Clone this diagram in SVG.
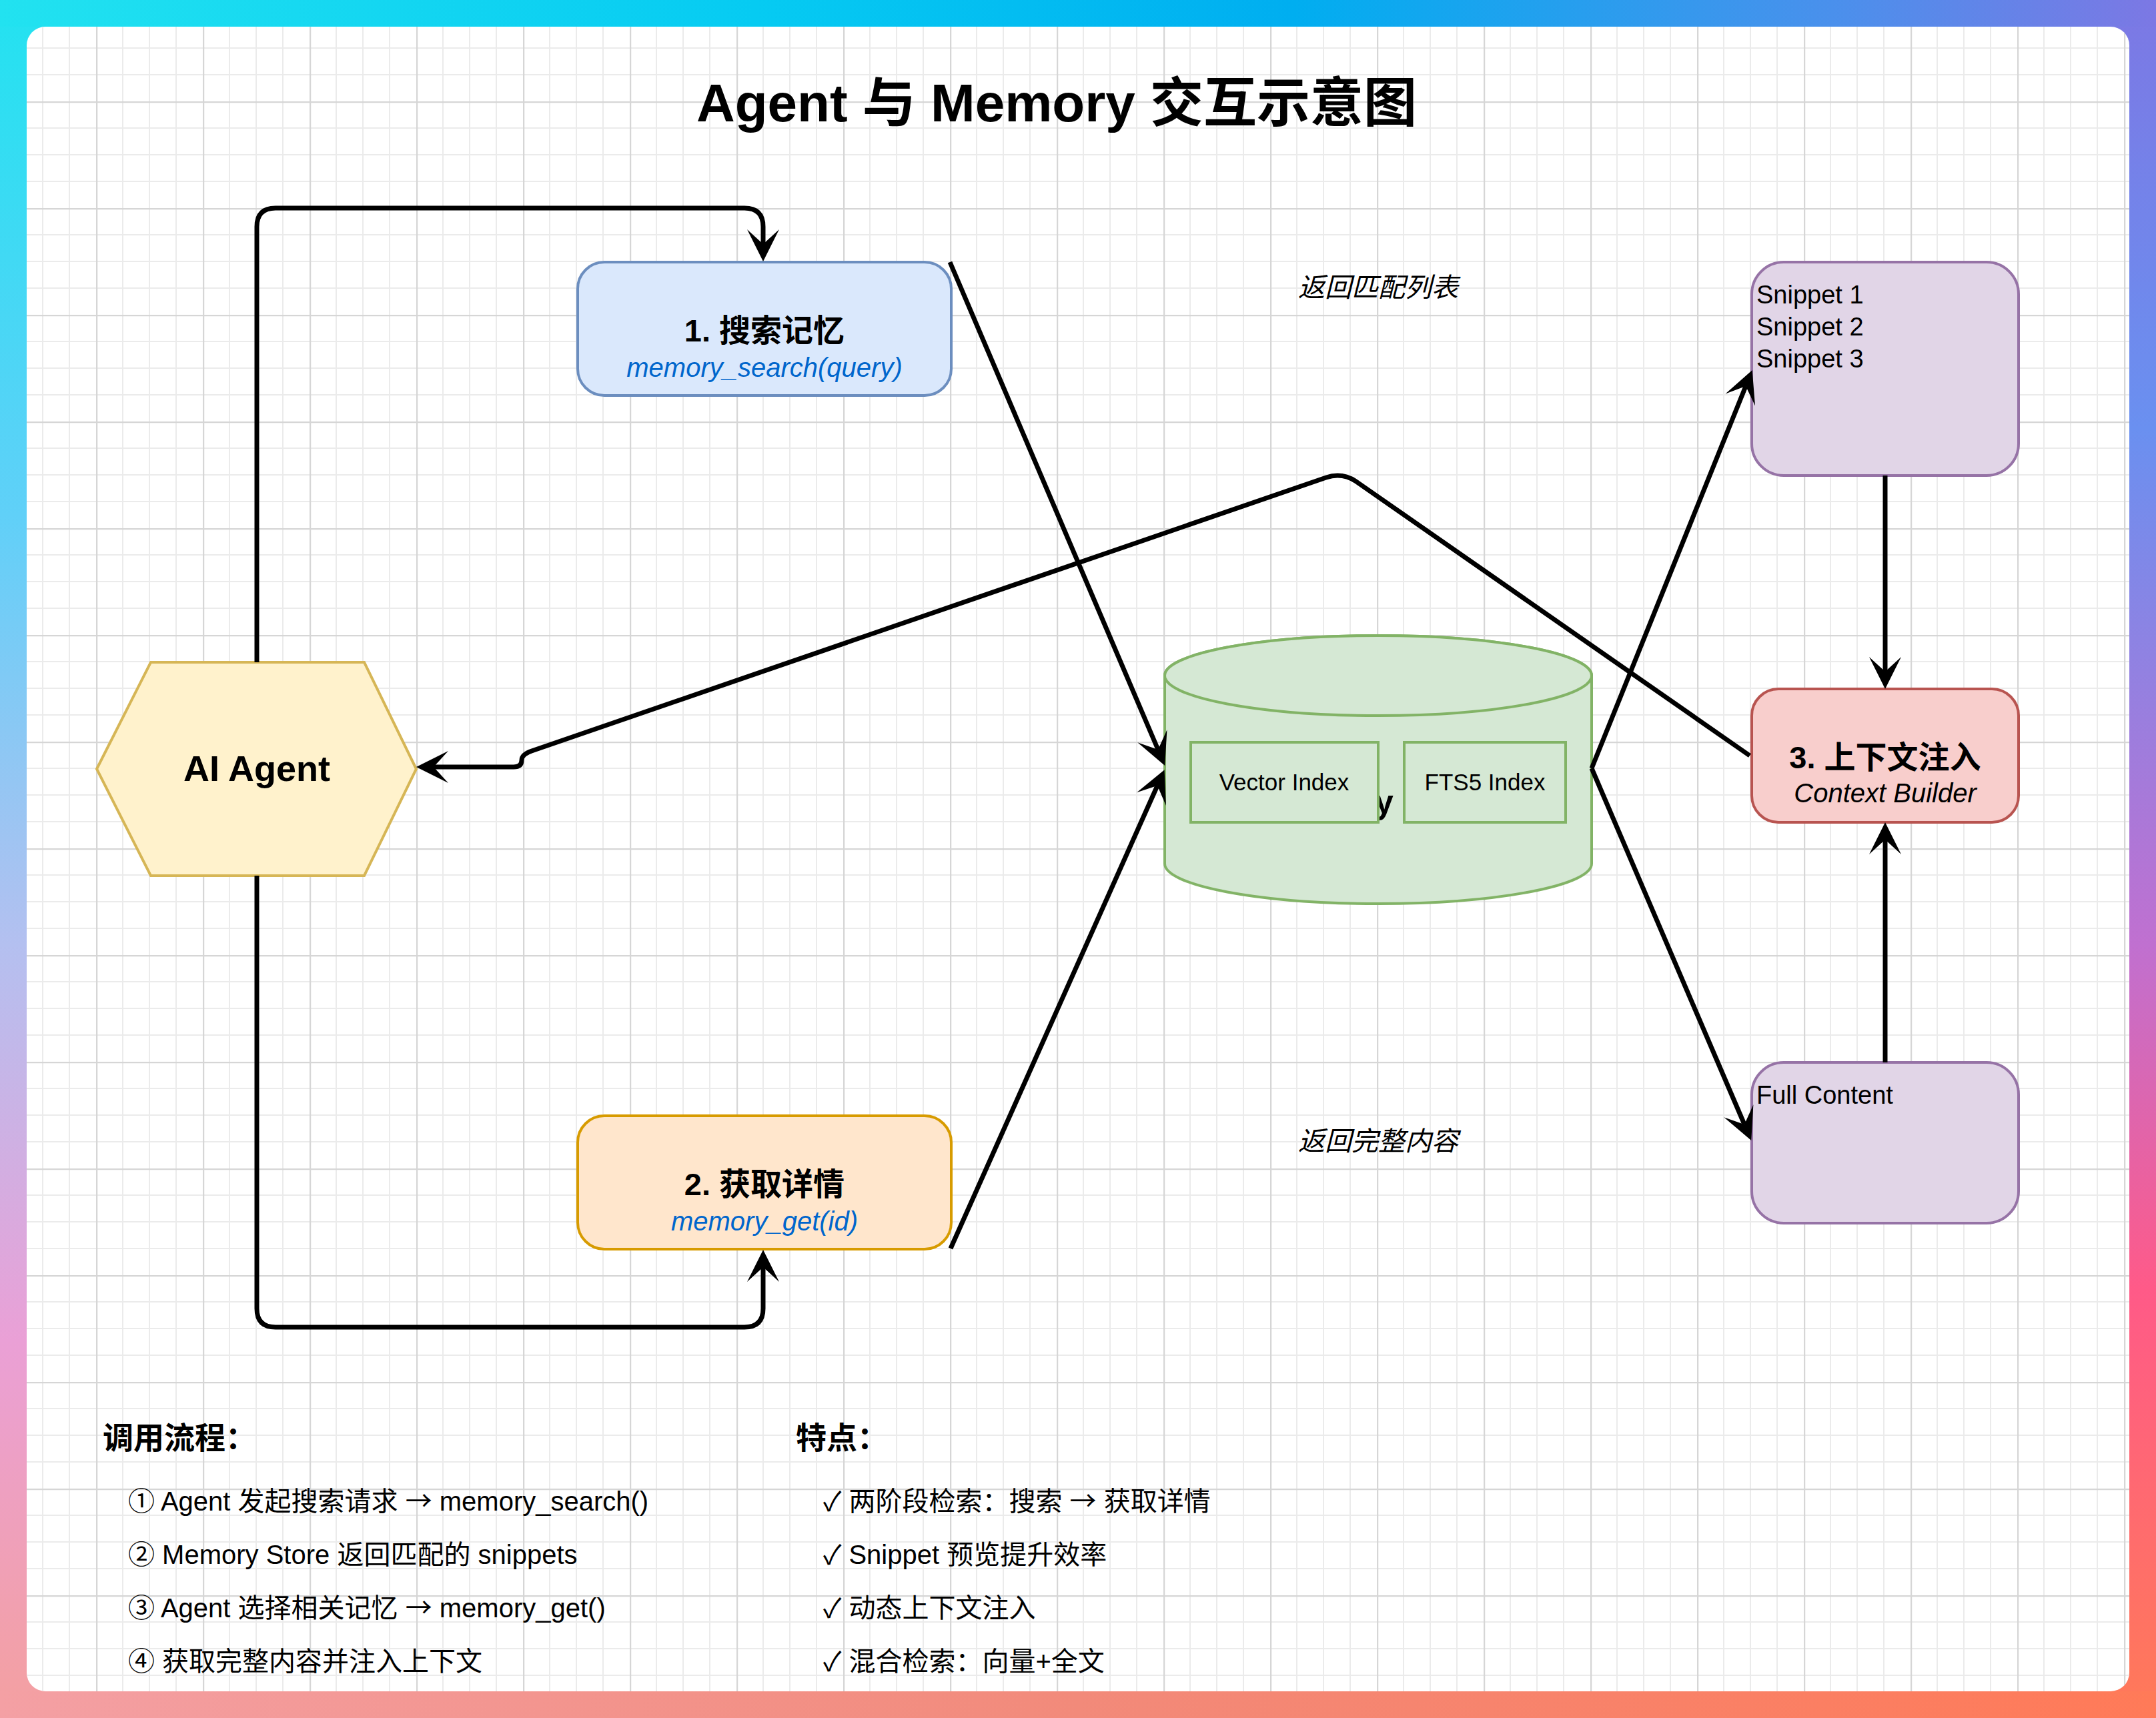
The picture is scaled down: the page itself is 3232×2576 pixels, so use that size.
<svg xmlns="http://www.w3.org/2000/svg" width="3232" height="2576" viewBox="0 0 3232 2576">
<defs>
<style>
.t{font-family:"Liberation Sans","Noto Sans CJK SC",sans-serif;fill:#000}
.b{font-weight:bold}
.i{font-style:italic}
.c{text-anchor:middle}
.blue{fill:#0066cc}
.ar{font-family:"Noto Sans CJK SC",sans-serif}
.edge{fill:none;stroke:#000;stroke-width:7;stroke-linejoin:round}
.green{fill:#d5e8d4;stroke:#82b366;stroke-width:4}
.purple{fill:#e1d5e7;stroke:#9673a6;stroke-width:4}
</style>
<linearGradient id="gTop" x1="0" y1="0" x2="1" y2="0">
<stop offset="0" stop-color="#22e2f0"/><stop offset="0.35" stop-color="#06cbf2"/><stop offset="0.6" stop-color="#00aef0"/><stop offset="0.85" stop-color="#4a90ec"/><stop offset="1" stop-color="#7c78e4"/>
</linearGradient>
<linearGradient id="gBot" x1="0" y1="0" x2="1" y2="0">
<stop offset="0" stop-color="#f4a0a4"/><stop offset="0.5" stop-color="#f28a7a"/><stop offset="1" stop-color="#ff7a58"/>
</linearGradient>
<linearGradient id="gLeft" x1="0" y1="0" x2="0" y2="1">
<stop offset="0" stop-color="#22e2f0"/><stop offset="0.3" stop-color="#60d0f8"/><stop offset="0.55" stop-color="#b4c0f0"/><stop offset="0.78" stop-color="#eaa0d6"/><stop offset="1" stop-color="#f4a0a0"/>
</linearGradient>
<linearGradient id="gRight" x1="0" y1="0" x2="0" y2="1">
<stop offset="0" stop-color="#7c78e4"/><stop offset="0.25" stop-color="#6a90f0"/><stop offset="0.55" stop-color="#c070d0"/><stop offset="0.75" stop-color="#ff5a88"/><stop offset="1" stop-color="#ff7a58"/>
</linearGradient>
<pattern id="grid" x="144" y="152" width="160" height="160" patternUnits="userSpaceOnUse">
<path d="M40 0V160M80 0V160M120 0V160M0 40H160M0 80H160M0 120H160" stroke="#ebebeb" stroke-width="2"/>
<path d="M1 0V160M0 1H160" stroke="#d6d6d6" stroke-width="2.5"/>
</pattern>
<marker id="arr" markerUnits="userSpaceOnUse" viewBox="-24 -25 52 50" refX="0" refY="0" markerWidth="52" markerHeight="50" orient="auto">
<path d="M26 0L-22 -24L0 0L-22 24Z" fill="#000"/>
</marker>
</defs>

<g id="background">
<rect x="0" y="0" width="1616" height="2576" fill="url(#gLeft)"/>
<rect x="1616" y="0" width="1616" height="2576" fill="url(#gRight)"/>
<rect x="0" y="0" width="3232" height="40" fill="url(#gTop)"/>
<rect x="0" y="2536" width="3232" height="40" fill="url(#gBot)"/>
<rect x="40" y="40" width="3152" height="2496" rx="28" fill="#ffffff"/>
<rect x="40" y="40" width="3152" height="2496" rx="28" fill="url(#grid)"/>
</g>

<g id="title">
<text class="t b c" x="1584" y="182" font-size="80">Agent 与 Memory 交互示意图</text>
</g>

<g id="node-search">
<rect x="866" y="393" width="560" height="200" rx="40" fill="#dae8fc" stroke="#6c8ebf" stroke-width="4"/>
<text class="t b c" x="1146" y="512" font-size="47">1. 搜索记忆</text>
<text class="t i c blue" x="1146" y="565" font-size="40">memory_search(query)</text>
</g>

<g id="node-get">
<rect x="866" y="1673" width="560" height="200" rx="40" fill="#ffe6cc" stroke="#d79b00" stroke-width="4"/>
<text class="t b c" x="1146" y="1792" font-size="47">2. 获取详情</text>
<text class="t i c blue" x="1146" y="1845" font-size="40">memory_get(id)</text>
</g>

<g id="node-agent">
<polygon points="145,1153 226,993 546,993 624,1153 546,1313 226,1313" fill="#fff2cc" stroke="#d6b656" stroke-width="4"/>
<text class="t b c" x="385" y="1171" font-size="54">AI Agent</text>
</g>

<g id="node-memory-store">
<path class="green" d="M1746 1013V1295A320 60 0 0 0 2386 1295V1013A320 60 0 0 0 1746 1013Z"/>
<ellipse class="green" cx="2066" cy="1013" rx="320" ry="60"/>
<text class="t b" x="2061" y="1220" font-size="50">y</text>
<g id="vector-index">
<rect class="green" x="1785" y="1113" width="281" height="120"/>
<text class="t c" x="1925" y="1185" font-size="35">Vector Index</text>
</g>
<g id="fts5-index">
<rect class="green" x="2105" y="1113" width="242" height="120"/>
<text class="t c" x="2226" y="1185" font-size="35">FTS5 Index</text>
</g>
</g>

<g id="node-snippets">
<rect class="purple" x="2626" y="393" width="400" height="320" rx="48"/>
<text class="t" x="2633" y="455" font-size="38">Snippet 1</text>
<text class="t" x="2633" y="503" font-size="38">Snippet 2</text>
<text class="t" x="2633" y="551" font-size="38">Snippet 3</text>
</g>

<g id="node-context">
<rect x="2626" y="1033" width="400" height="200" rx="40" fill="#f8cecc" stroke="#b85450" stroke-width="4"/>
<text class="t b c" x="2826" y="1152" font-size="47">3. 上下文注入</text>
<text class="t i c" x="2826" y="1203" font-size="40">Context Builder</text>
</g>

<g id="node-full-content">
<rect class="purple" x="2626" y="1593" width="400" height="241" rx="48"/>
<text class="t" x="2633" y="1655" font-size="38">Full Content</text>
</g>

<g id="connectors">
<path class="edge" marker-end="url(#arr)" d="M385 993V340Q385 312 413 312H1116Q1144 312 1144 340V366"/>
<path class="edge" marker-end="url(#arr)" d="M385 1313V1962Q385 1990 413 1990H1116Q1144 1990 1144 1962V1900"/>
<path class="edge" marker-end="url(#arr)" d="M1424 393L1736 1124"/>
<path class="edge" marker-end="url(#arr)" d="M1425 1872L1735 1178"/>
<path class="edge" marker-end="url(#arr)" d="M2386 1152L2617 579"/>
<path class="edge" marker-end="url(#arr)" d="M2386 1152L2615 1686"/>
<path class="edge" marker-end="url(#arr)" d="M2826 713V1007"/>
<path class="edge" marker-end="url(#arr)" d="M2826 1593V1259"/>
<path class="edge" marker-end="url(#arr)" d="M2623 1133L2033 722Q2012 708 1988 716L797 1126Q782 1131 782 1140Q782 1150 770 1150H650"/>
</g>

<g id="edge-labels">
<text class="t i c" x="2066" y="445" font-size="40">返回匹配列表</text>
<text class="t i c" x="2066" y="1725" font-size="40">返回完整内容</text>
</g>

<g id="legend-flow">
<text class="t b" x="154" y="2172" font-size="46">调用流程：</text>
<text class="t" x="192" y="2265" font-size="40">① Agent 发起搜索请求 <tspan class="ar">→</tspan> memory_search()</text>
<text class="t" x="192" y="2345" font-size="40">② Memory Store 返回匹配的 snippets</text>
<text class="t" x="192" y="2425" font-size="40">③ Agent 选择相关记忆 <tspan class="ar">→</tspan> memory_get()</text>
<text class="t" x="192" y="2505" font-size="40">④ 获取完整内容并注入上下文</text>
</g>

<g id="legend-features">
<text class="t b" x="1193" y="2172" font-size="46">特点：</text>
<text class="t" x="1234" y="2265" font-size="40">✓ 两阶段检索：搜索 <tspan class="ar">→</tspan> 获取详情</text>
<text class="t" x="1234" y="2345" font-size="40">✓ Snippet 预览提升效率</text>
<text class="t" x="1234" y="2425" font-size="40">✓ 动态上下文注入</text>
<text class="t" x="1234" y="2505" font-size="40">✓ 混合检索：向量+全文</text>
</g>
</svg>
